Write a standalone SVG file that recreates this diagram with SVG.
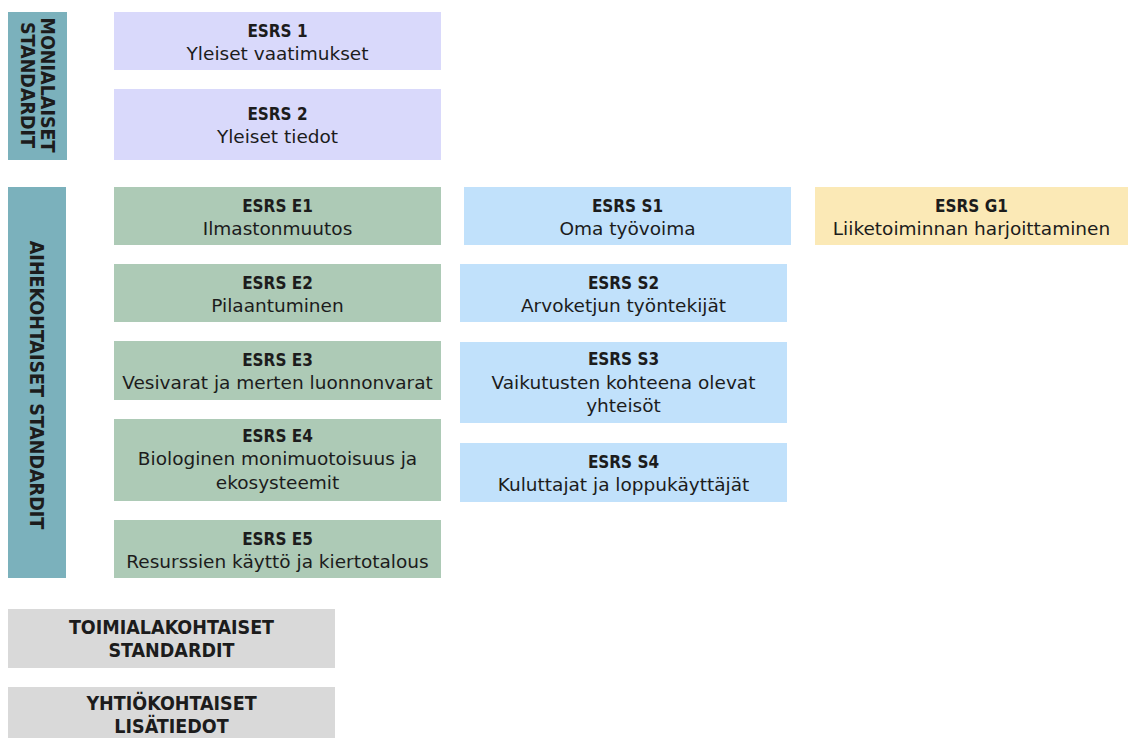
<svg xmlns="http://www.w3.org/2000/svg" width="1130" height="738" viewBox="0 0 1130 738">
<style>
.bar{fill:#7bb1bc}
.gen{fill:#d9d9fb}
.env{fill:#adcab6}
.soc{fill:#c1e1fb}
.gov{fill:#fbe9b6}
.oth{fill:#d9d9d9}
text{fill:#1c1c1c;text-anchor:middle}
.t{font-family:"DejaVu Sans Condensed","DejaVu Sans",sans-serif;font-weight:bold;font-size:17px}
.s{font-family:"DejaVu Sans",sans-serif;font-size:18.5px}
.c{font-family:"DejaVu Sans Condensed","DejaVu Sans",sans-serif;font-weight:bold;font-size:19.5px}
</style>
<rect width="1130" height="738" fill="#ffffff"/>
<g id="bar-monialaiset">
<rect class="bar" x="8" y="12" width="59" height="148"/>
<text class="c" transform="translate(41,85) rotate(90)">MONIALAISET</text>
<text class="c" transform="translate(21,85) rotate(90)">STANDARDIT</text>
</g>
<g id="bar-aihekohtaiset">
<rect class="bar" x="8" y="187" width="58" height="391"/>
<text class="c" transform="translate(30,385) rotate(90)">AIHEKOHTAISET STANDARDIT</text>
</g>
<g id="esrs1">
<rect class="gen" x="114" y="12" width="327" height="58"/>
<text class="t" x="277.5" y="37">ESRS 1</text>
<text class="s" x="277.5" y="60">Yleiset vaatimukset</text>
</g>
<g id="esrs2">
<rect class="gen" x="114" y="89" width="327" height="71"/>
<text class="t" x="277.5" y="120">ESRS 2</text>
<text class="s" x="277.5" y="143">Yleiset tiedot</text>
</g>
<g id="esrs-e1">
<rect class="env" x="114" y="187" width="327" height="58"/>
<text class="t" x="277.5" y="212">ESRS E1</text>
<text class="s" x="277.5" y="235">Ilmastonmuutos</text>
</g>
<g id="esrs-e2">
<rect class="env" x="114" y="264" width="327" height="58"/>
<text class="t" x="277.5" y="289">ESRS E2</text>
<text class="s" x="277.5" y="312">Pilaantuminen</text>
</g>
<g id="esrs-e3">
<rect class="env" x="114" y="341" width="327" height="59"/>
<text class="t" x="277.5" y="366">ESRS E3</text>
<text class="s" x="277.5" y="389">Vesivarat ja merten luonnonvarat</text>
</g>
<g id="esrs-e4">
<rect class="env" x="114" y="419" width="327" height="82"/>
<text class="t" x="277.5" y="442">ESRS E4</text>
<text class="s" x="277.5" y="465">Biologinen monimuotoisuus ja</text>
<text class="s" x="277.5" y="489">ekosysteemit</text>
</g>
<g id="esrs-e5">
<rect class="env" x="114" y="520" width="327" height="58"/>
<text class="t" x="277.5" y="545">ESRS E5</text>
<text class="s" x="277.5" y="568">Resurssien käyttö ja kiertotalous</text>
</g>
<g id="esrs-s1">
<rect class="soc" x="464" y="187" width="327" height="58"/>
<text class="t" x="627.5" y="212">ESRS S1</text>
<text class="s" x="627.5" y="235">Oma työvoima</text>
</g>
<g id="esrs-s2">
<rect class="soc" x="460" y="264" width="327" height="58"/>
<text class="t" x="623.5" y="289">ESRS S2</text>
<text class="s" x="623.5" y="312">Arvoketjun työntekijät</text>
</g>
<g id="esrs-s3">
<rect class="soc" x="460" y="342" width="327" height="81"/>
<text class="t" x="623.5" y="365">ESRS S3</text>
<text class="s" x="623.5" y="388.5">Vaikutusten kohteena olevat</text>
<text class="s" x="623.5" y="412">yhteisöt</text>
</g>
<g id="esrs-s4">
<rect class="soc" x="460" y="443" width="327" height="59"/>
<text class="t" x="623.5" y="468">ESRS S4</text>
<text class="s" x="623.5" y="491">Kuluttajat ja loppukäyttäjät</text>
</g>
<g id="esrs-g1">
<rect class="gov" x="815" y="187" width="313" height="58"/>
<text class="t" x="971.5" y="212">ESRS G1</text>
<text class="s" x="971.5" y="235">Liiketoiminnan harjoittaminen</text>
</g>
<g id="toimialakohtaiset">
<rect class="oth" x="8" y="609" width="327" height="59"/>
<text class="c" x="171.5" y="634">TOIMIALAKOHTAISET</text>
<text class="c" x="171.5" y="657">STANDARDIT</text>
</g>
<g id="yhtiokohtaiset">
<rect class="oth" x="8" y="687" width="327" height="51"/>
<text class="c" x="171.5" y="710">YHTIÖKOHTAISET</text>
<text class="c" x="171.5" y="733">LISÄTIEDOT</text>
</g>
<g id="connectors"/>
</svg>
